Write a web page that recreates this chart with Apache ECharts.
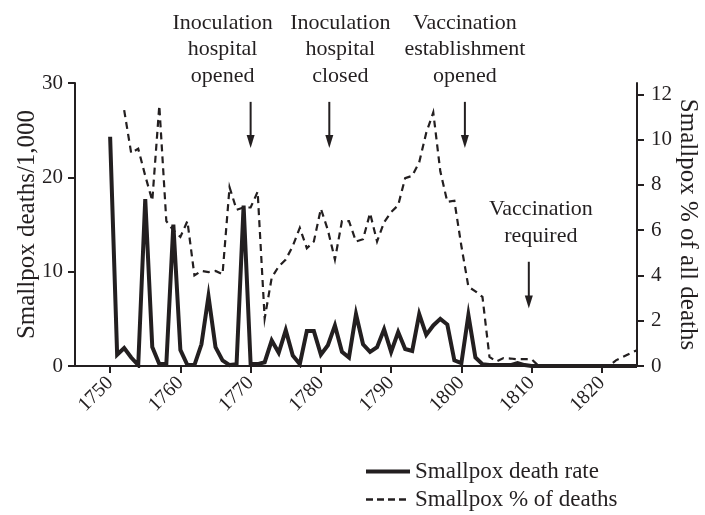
<!DOCTYPE html>
<html>
<head>
<meta charset="utf-8">
<script src="https://cdn.jsdelivr.net/npm/echarts@6/dist/echarts.min.js"></script>
<style>
  html, body { margin: 0; padding: 0; background: #fff; }
  #chart { width: 705px; height: 515px; }
</style>
</head>
<body>
<div id="chart"></div>
<script>
// years 1750..1825
const years = []
for (let y = 1750; y <= 1825; y++) years.push(y)

// smallpox deaths per 1,000 (left axis)
const deathRate = [
  24.3, 1.2, 1.9, 0.9, 0.1, 17.7, 2.0, 0.2, 0.2, 15.0,
  1.7, 0.1, 0.1, 2.3, 7.4, 2.0, 0.6, 0.1, 0.2, 17.0,
  0.2, 0.2, 0.4, 2.7, 1.4, 3.8, 1.1, 0.2, 3.7, 3.7,
  1.2, 2.2, 4.3, 1.5, 0.9, 5.5, 2.3, 1.5, 2.0, 3.9,
  1.5, 3.6, 1.8, 1.6, 5.5, 3.3, 4.3, 5.0, 4.4, 0.6,
  0.3, 5.4, 0.9, 0.2, 0.1, 0.1, 0.1, 0.1, 0.3, 0.1,
  0, 0, 0, 0, 0, 0, 0, 0, 0, 0,
  0, 0, 0, 0, 0, 0
]

// smallpox % of all deaths (right axis), no data for 1750-1751
const pctDeaths = [
  null, null, 11.3, 9.4, 9.6, 8.4, 7.3, 11.5, 6.4, 6.0,
  5.7, 6.4, 4.0, 4.2, 4.15, 4.2, 4.05, 7.9, 6.9, 7.0,
  7.0, 7.7, 2.1, 3.9, 4.4, 4.7, 5.3, 6.1, 5.2, 5.5,
  6.95, 6.0, 4.7, 6.4, 6.4, 5.5, 5.6, 6.75, 5.5, 6.35,
  6.8, 7.1, 8.3, 8.4, 9.0, 10.3, 11.2, 8.6, 7.25, 7.3,
  5.3, 3.5, 3.3, 3.05, 0.4, 0.2, 0.35, 0.33, 0.3, 0.3,
  0.3, 0, 0, 0, 0, 0, 0, 0, 0, 0,
  0, 0, 0.25, 0.4, 0.55, 0.7
]

const xTicks = [1750, 1760, 1770, 1780, 1790, 1800, 1810, 1820]
const rightTicks = [0, 2, 4, 6, 8, 10, 12]

// annotations: arrow year, arrow top / tip on the left axis, text lines
const notes = [
  { year: 1770, top: 28.0, tip: 23.1, dx: -28, lines: ['Inoculation', 'hospital', 'opened'] },
  { year: 1781.2, top: 28.0, tip: 23.1, dx: 11, lines: ['Inoculation', 'hospital', 'closed'] },
  { year: 1800.5, top: 28.0, tip: 23.1, dx: 0, lines: ['Vaccination', 'establishment', 'opened'] },
  { year: 1809.6, top: 11.05, tip: 6.1, dx: 12, lines: ['Vaccination', 'required'] }
]

const ink = '#231f20'
const serif = 'Liberation Serif'
const clear = 'rgba(0,0,0,0)'

const chart = echarts.init(document.getElementById('chart'))

const axisBase = {
  axisLine: { show: true, lineStyle: { color: ink, width: 2 } },
  axisTick: { show: true, length: 7, lineStyle: { color: ink, width: 2 } },
  splitLine: { show: false },
  axisLabel: { color: ink, fontFamily: serif, fontSize: 21 }
}

chart.setOption({
  animation: false,
  grid: { left: 75, right: 68, top: 83, bottom: 149, outerBoundsMode: 'none' },
  legend: {
    orient: 'vertical',
    left: 364,
    top: 459,
    padding: 0,
    itemWidth: 44,
    itemHeight: 12,
    itemGap: 3,
    itemStyle: { color: clear, borderColor: clear, borderWidth: 0 },
    textStyle: { color: ink, fontFamily: serif, fontSize: 23, lineHeight: 25 },
    data: [
      { name: 'Smallpox death rate', lineStyle: { color: ink, width: 4, type: 'solid' } },
      { name: 'Smallpox % of deaths', lineStyle: { color: ink, width: 2.5, type: [7, 4] } }
    ]
  },
  xAxis: {
    type: 'value',
    min: 1745,
    max: 1825,
    ...axisBase,
    axisTick: { ...axisBase.axisTick, customValues: xTicks },
    axisLabel: {
      ...axisBase.axisLabel,
      fontSize: 20,
      rotate: 45,
      margin: 14,
      customValues: xTicks,
      formatter: v => String(v)
    }
  },
  yAxis: [
    {
      type: 'value',
      min: 0,
      max: 30,
      interval: 10,
      name: 'Smallpox deaths/1,000',
      nameLocation: 'middle',
      nameGap: 35,
      nameMoveOverlap: false,
      nameTextStyle: { color: ink, fontFamily: serif, fontSize: 25 },
      ...axisBase,
      axisLabel: { ...axisBase.axisLabel, margin: 12 }
    },
    {
      type: 'value',
      position: 'right',
      min: 0,
      max: 12.5,
      name: 'Smallpox % of all deaths',
      nameLocation: 'middle',
      nameRotate: -90,
      nameGap: 38,
      nameMoveOverlap: false,
      nameTextStyle: { color: ink, fontFamily: serif, fontSize: 25 },
      ...axisBase,
      axisTick: { ...axisBase.axisTick, customValues: rightTicks },
      axisLabel: { ...axisBase.axisLabel, margin: 14, customValues: rightTicks }
    }
  ],
  series: [
    {
      name: 'Smallpox death rate',
      type: 'line',
      yAxisIndex: 0,
      symbol: 'none',
      data: years.map((y, i) => [y, deathRate[i]]),
      itemStyle: { color: ink },
      lineStyle: { color: ink, width: 4, join: 'miter' },
      z: 3
    },
    {
      name: 'Smallpox % of deaths',
      type: 'line',
      yAxisIndex: 1,
      symbol: 'none',
      data: years.map((y, i) => [y, pctDeaths[i]]),
      itemStyle: { color: ink },
      lineStyle: { color: ink, width: 2.2, type: [7, 5], join: 'miter' },
      z: 2
    }
  ]
})

// arrows and their captions, placed through the axes
const graphics = []
notes.forEach(n => {
  const x = chart.convertToPixel({ xAxisIndex: 0 }, n.year)
  const yTop = chart.convertToPixel({ yAxisIndex: 0 }, n.top)
  const yTip = chart.convertToPixel({ yAxisIndex: 0 }, n.tip)
  graphics.push({
    type: 'line',
    shape: { x1: x, y1: yTop, x2: x, y2: yTip - 10 },
    style: { stroke: ink, lineWidth: 2 }
  })
  graphics.push({
    type: 'polygon',
    shape: { points: [[x - 4, yTip - 13], [x + 4, yTip - 13], [x, yTip]] },
    style: { fill: ink }
  })
  const last = n.lines.length - 1
  n.lines.forEach((t, i) => {
    graphics.push({
      type: 'text',
      x: x + n.dx,
      y: yTop - 26 - (last - i) * 26.5,
      style: {
        text: t,
        fill: ink,
        font: '22px "Liberation Serif"',
        align: 'center',
        verticalAlign: 'middle'
      }
    })
  })
})
chart.setOption({ graphic: graphics })
</script>
</body>
</html>
